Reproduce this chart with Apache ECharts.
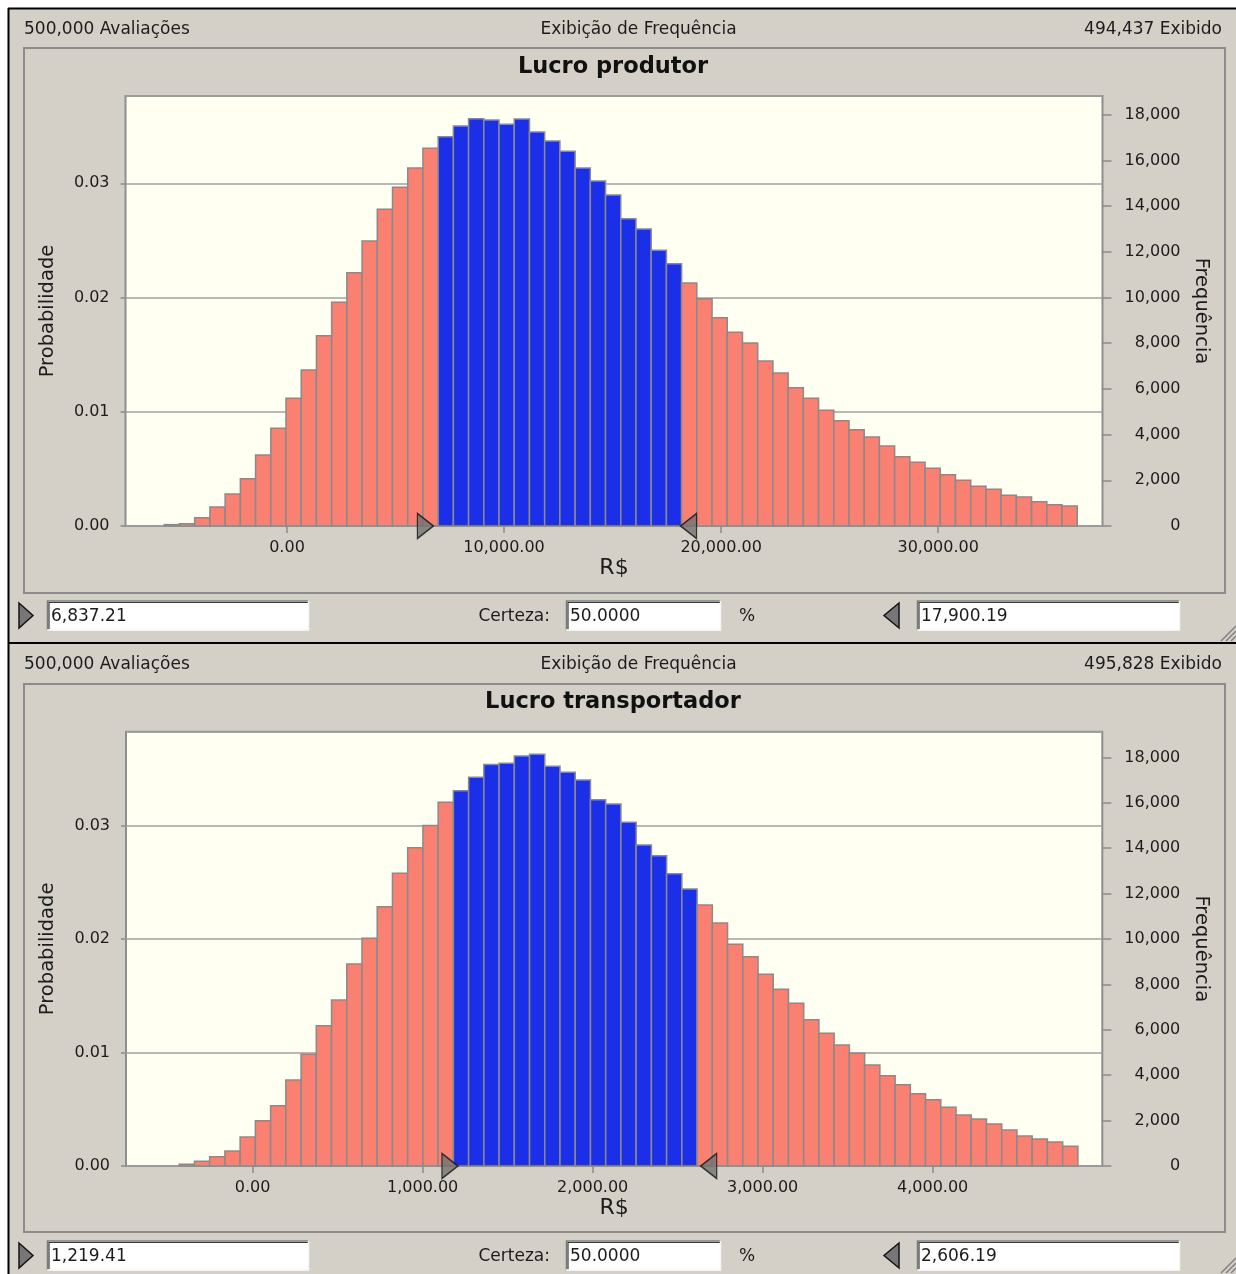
<!DOCTYPE html>
<html>
<head>
<meta charset="utf-8">
<title>Lucro produtor / Lucro transportador</title>
<script src="https://cdn.jsdelivr.net/npm/echarts@6/dist/echarts.min.js"></script>
<style>
html,body{margin:0;padding:0;background:#ffffff;}
#chart{width:1236px;height:1274px;}
</style>
</head>
<body>
<div id="chart"></div>
<script>
// ---------------- data ----------------
const produtorFreq = [60, 100, 365, 832, 1400, 2070, 3107, 4275, 5588, 6827,
  8330, 9790, 11087, 12474, 13860, 14823, 15669, 16530, 17040, 17507,
  17827, 17770, 17580, 17814, 17245, 16851, 16400, 15669, 15100, 14487,
  13450, 12999, 12067, 11480, 10636, 9949, 9117, 8478, 8010, 7222,
  6696, 6053, 5588, 5062, 4610, 4216, 3895, 3501, 3034, 2787,
  2524, 2247, 1999, 1736, 1605, 1342, 1269, 1065, 934, 875];
const produtorBinStart = -5654;
const produtorBinWidth = 701;
const produtorCertainty = [6837.21, 17900.19];
const produtorXTicks = [0, 10000, 20000, 30000];
const produtorXRange = [-7440, 37570];
const produtorFreqMax = 18820;

const transportadorFreq = [73, 206, 411, 661, 1278, 1996, 2656, 3789, 4919, 6182,
  7313, 8899, 10029, 11424, 12893, 14023, 14993, 16020, 16534, 17122,
  17680, 17739, 18062, 18135, 17607, 17342, 17004, 16138, 15947, 15139,
  14141, 13671, 12878, 12203, 11498, 10705, 9765, 9222, 8444, 7783,
  7166, 6446, 5844, 5330, 4963, 4449, 3979, 3583, 3186, 2922,
  2584, 2247, 2070, 1850, 1586, 1322, 1189, 1057, 866];
const transportadorBinStart = -432;
const transportadorBinWidth = 89.6;
const transportadorCertainty = [1219.41, 2606.19];
const transportadorXTicks = [0, 1000, 2000, 3000, 4000];
const transportadorXRange = [-745, 4998];
const transportadorFreqMax = 19130;

const totalTrials = 500000;
const headerLeft = '500,000 Avaliações';
const headerCenter = 'Exibição de Frequência';
const headerRight = ['494,437 Exibido', '495,828 Exibido'];
const titles = ['Lucro produtor', 'Lucro transportador'];
const certaintyPct = '50.0000';

// ---------------- styles ----------------
const FONT = 'DejaVu Sans';
const SALMON = '#FA8072', BLUE = '#1B2FE8', BAR_EDGE = '#8A8A8A';
const PANEL = '#D4D0C8', PLOT_BG = '#FFFFF2', GRID_LINE = '#A0A0A0';
const TXT = '#1C1C1C', AXIS_GRAY = '#8A8A8A';

const fmt2 = v => Number(v).toLocaleString('en-US', {minimumFractionDigits: 2, maximumFractionDigits: 2});
const fmtInt = v => Number(v).toLocaleString('en-US');

function binData(freq, start, width, range) {
  return freq.map((f, i) => {
    const s = start + i * width, e = s + width, c = (s + e) / 2;
    return [s, e, f, (c >= range[0] && c <= range[1]) ? 1 : 0];
  });
}

function renderBar(params, api) {
  const s = api.value(0), e = api.value(1), f = api.value(2), inside = api.value(3);
  const tl = api.coord([s, f]);
  const br = api.coord([e, 0]);
  return {
    type: 'rect',
    shape: {x: tl[0], y: tl[1], width: br[0] - tl[0], height: br[1] - tl[1]},
    style: {fill: inside ? BLUE : SALMON, stroke: BAR_EDGE, lineWidth: 1.5}
  };
}

const panels = [
  {freq: produtorFreq, start: produtorBinStart, width: produtorBinWidth, range: produtorCertainty,
   xTicks: produtorXTicks, xRange: produtorXRange, freqMax: produtorFreqMax,
   grid: {left: 125.5, top: 96, width: 977, height: 430}, titleTop: 55.5, headerY: 29.5,
   frame: {x: 24, y: 48, width: 1201, height: 545}, ctrlY: 615.5},
  {freq: transportadorFreq, start: transportadorBinStart, width: transportadorBinWidth, range: transportadorCertainty,
   xTicks: transportadorXTicks, xRange: transportadorXRange, freqMax: transportadorFreqMax,
   grid: {left: 126, top: 731.7, width: 976.3, height: 434.3}, titleTop: 690.5, headerY: 664.5,
   frame: {x: 24, y: 684, width: 1201, height: 548}, ctrlY: 1255.5}
];

const grids = [], xAxes = [], yAxes = [], series = [], titleOpts = [], graphics = [];

// window background pieces
graphics.push({type: 'rect', shape: {x: 0, y: 0, width: 1236, height: 8}, style: {fill: '#ffffff'}, silent: true});
graphics.push({type: 'rect', shape: {x: 0, y: 0, width: 8, height: 1274}, style: {fill: '#ffffff'}, silent: true});
graphics.push({type: 'line', shape: {x1: 8, y1: 8.5, x2: 1236, y2: 8.5}, style: {stroke: '#000', lineWidth: 2}, silent: true});
graphics.push({type: 'line', shape: {x1: 8.5, y1: 8, x2: 8.5, y2: 1274}, style: {stroke: '#000', lineWidth: 2}, silent: true});
graphics.push({type: 'line', shape: {x1: 8, y1: 643, x2: 1236, y2: 643}, style: {stroke: '#000', lineWidth: 2}, silent: true});

function txt(text, x, y, align, size, extra) {
  return Object.assign({type: 'text', silent: true, style: {text: text, x: x, y: y, align: align, verticalAlign: 'middle',
    fontFamily: FONT, fontSize: size, fill: TXT}}, extra || {});
}

function sunkenBox(x, y, w, h) {
  return [
    {type: 'rect', shape: {x: x, y: y, width: w, height: h}, style: {fill: '#ffffff'}, silent: true},
    {type: 'polyline', shape: {points: [[x + 0.5, y + h], [x + 0.5, y + 0.5], [x + w, y + 0.5]]}, style: {stroke: '#7a7a7a', lineWidth: 1.5, fill: null}, silent: true},
    {type: 'polyline', shape: {points: [[x + 2, y + h - 1], [x + 2, y + 2], [x + w - 1, y + 2]]}, style: {stroke: '#3a3a3a', lineWidth: 1.2, fill: null}, silent: true},
    {type: 'polyline', shape: {points: [[x, y + h - 0.5], [x + w - 0.5, y + h - 0.5], [x + w - 0.5, y]]}, style: {stroke: '#f6f6f6', lineWidth: 1.5, fill: null}, silent: true}
  ];
}

panels.forEach((p, i) => {
  const probMax = p.freqMax / totalTrials;
  grids.push(Object.assign({show: true, backgroundColor: PLOT_BG, borderColor: '#8E8E8E', borderWidth: 2, containLabel: false}, p.grid));
  xAxes.push({
    type: 'value', gridIndex: i, min: p.xRange[0], max: p.xRange[1],
    name: 'R$', nameLocation: 'middle', nameGap: 30,
    nameTextStyle: {fontFamily: FONT, fontSize: 22, color: TXT},
    axisLine: {show: false, onZero: false},
    axisTick: {show: true, customValues: p.xTicks, length: 7, lineStyle: {color: AXIS_GRAY, width: 1.5}},
    axisLabel: {customValues: p.xTicks, formatter: fmt2, margin: 14, fontFamily: FONT, fontSize: 16, color: TXT},
    splitLine: {show: false}
  });
  yAxes.push({
    type: 'value', gridIndex: i, position: 'left', min: 0, max: probMax, interval: 0.01,
    name: 'Probabilidade', nameLocation: 'middle', nameGap: 68, nameRotate: 90,
    nameTextStyle: {fontFamily: FONT, fontSize: 19.5, color: TXT},
    axisLine: {show: false, onZero: false},
    axisTick: {show: true, length: 5, lineStyle: {color: AXIS_GRAY, width: 1.5}},
    axisLabel: {formatter: v => v.toFixed(2), margin: 16, showMaxLabel: false, fontFamily: FONT, fontSize: 16, color: TXT},
    splitLine: {show: true, lineStyle: {color: GRID_LINE, width: 1.5}}
  });
  yAxes.push({
    type: 'value', gridIndex: i, position: 'right', min: 0, max: p.freqMax, interval: 2000,
    name: 'Frequência', nameLocation: 'middle', nameGap: 88, nameRotate: -90,
    nameTextStyle: {fontFamily: FONT, fontSize: 19.5, color: TXT},
    axisLine: {show: false, onZero: false},
    axisTick: {show: true, length: 9, lineStyle: {color: AXIS_GRAY, width: 1.5}},
    axisLabel: {formatter: fmtInt, margin: 78, align: 'right', showMaxLabel: false, fontFamily: FONT, fontSize: 16, color: TXT},
    splitLine: {show: false}
  });
  series.push({
    type: 'custom', xAxisIndex: i, yAxisIndex: i * 2 + 1, renderItem: renderBar,
    data: binData(p.freq, p.start, p.width, p.range), encode: {x: [0, 1], y: 2}, z: 3, silent: true
  });
  series.push({
    type: 'scatter', xAxisIndex: i, yAxisIndex: i * 2 + 1, clip: false, silent: true, z: 6,
    data: [[p.range[0], 0]], symbol: 'triangle', symbolSize: [25, 16], symbolRotate: -90, symbolOffset: [-10, 0],
    itemStyle: {color: '#727272', borderColor: '#141414', borderWidth: 1.5}
  });
  series.push({
    type: 'scatter', xAxisIndex: i, yAxisIndex: i * 2 + 1, clip: false, silent: true, z: 6,
    data: [[p.range[1], 0]], symbol: 'triangle', symbolSize: [25, 16], symbolRotate: 90, symbolOffset: [13, 0],
    itemStyle: {color: '#727272', borderColor: '#141414', borderWidth: 1.5}
  });
  titleOpts.push({text: titles[i], left: 613, top: p.titleTop, textAlign: 'center', padding: 0,
    textStyle: {fontFamily: FONT, fontWeight: 'bold', fontSize: 22.5, color: '#111'}});

  // header line
  graphics.push(txt(headerLeft, 24, p.headerY, 'left', 17));
  graphics.push(txt(headerCenter, 638.5, p.headerY, 'center', 17));
  graphics.push(txt(headerRight[i], 1222, p.headerY, 'right', 17));
  // frame around chart
  graphics.push({type: 'rect', shape: p.frame, style: {fill: null, stroke: '#8C8C8C', lineWidth: 2}, silent: true});
  // controls
  const cy = p.ctrlY;
  graphics.push({type: 'polygon', shape: {points: [[19, cy - 12.5], [33, cy], [19, cy + 12.5]]}, style: {fill: '#777', stroke: '#141414', lineWidth: 1.5}, silent: true});
  sunkenBox(47, cy - 15, 262, 30).forEach(g => graphics.push(g));
  graphics.push(txt(fmt2(p.range[0]), 51, cy + 1, 'left', 17));
  graphics.push(txt('Certeza:', 550, cy + 1, 'right', 17));
  sunkenBox(566, cy - 15, 155, 30).forEach(g => graphics.push(g));
  graphics.push(txt(certaintyPct, 570, cy + 1, 'left', 17));
  graphics.push(txt('%', 747, cy + 1, 'center', 17));
  graphics.push({type: 'polygon', shape: {points: [[899, cy - 12.5], [884, cy], [899, cy + 12.5]]}, style: {fill: '#777', stroke: '#141414', lineWidth: 1.5}, silent: true});
  sunkenBox(917, cy - 15, 263, 30).forEach(g => graphics.push(g));
  graphics.push(txt(fmt2(p.range[1]), 921, cy + 1, 'left', 17));
  // resize grip
  const gy = i === 0 ? 641 : 1273;
  [[1221, 15], [1226, 10], [1231, 5]].forEach(([x, d]) => {
    graphics.push({type: 'line', shape: {x1: x, y1: gy, x2: x + d, y2: gy - d}, style: {stroke: '#808080', lineWidth: 1.5}, silent: true});
  });
});

const chart = echarts.init(document.getElementById('chart'), null, {renderer: 'canvas', width: 1236, height: 1274});
chart.setOption({
  backgroundColor: PANEL,
  animation: false,
  title: titleOpts,
  grid: grids,
  xAxis: xAxes,
  yAxis: yAxes,
  series: series,
  graphic: {elements: graphics}
});
</script>
</body>
</html>
